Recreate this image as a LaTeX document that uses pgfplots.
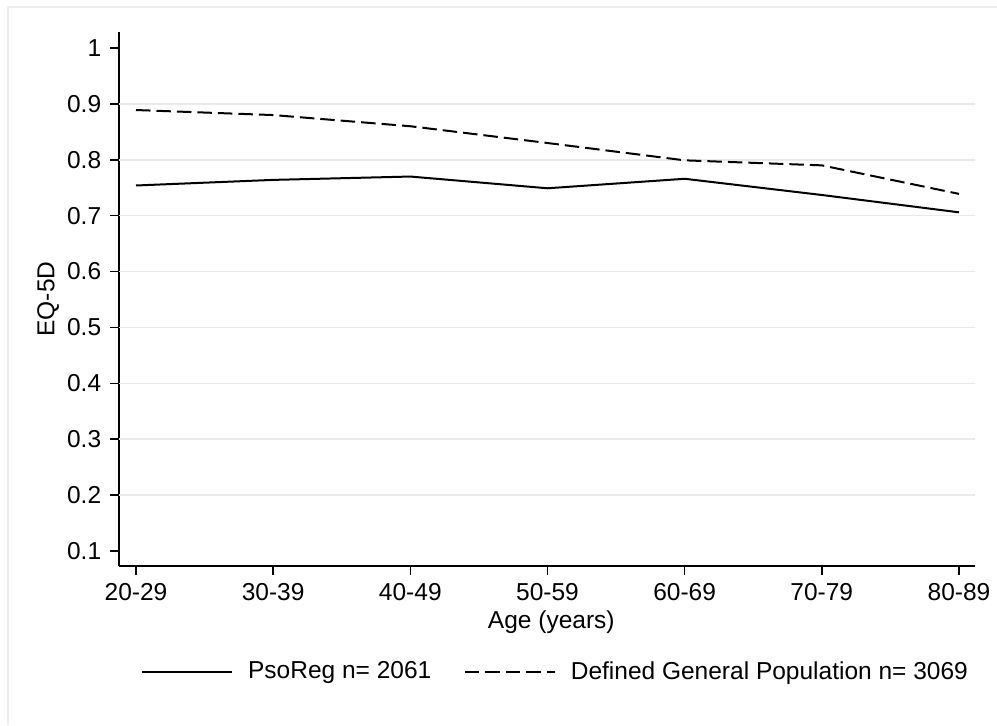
\documentclass[border=0pt]{standalone}
\usepackage{fontspec}
\setmainfont{Liberation Sans}
\usepackage{pgfplots}
\pgfplotsset{compat=1.18}
\definecolor{gridc}{HTML}{EAEAEA}
\definecolor{framec}{HTML}{EEEEEE}
\begin{document}
\begin{tikzpicture}
\path[use as bounding box] (-47.6pt,-63.6pt) rectangle (351.2pt,226.4pt);
\draw[framec, line width=1pt] (-44.4pt,-63.6pt) -- (-44.4pt,223.6pt) -- (351.2pt,223.6pt);
\begin{axis}[
  scale only axis, width=342.4pt, height=213.6pt,
  xmin=-0.124, xmax=6.117, ymin=0.0732, ymax=1.0286,
  axis x line*=bottom, axis y line*=left,
  xtick={0,1,2,3,4,5,6},
  xticklabels={20-29,30-39,40-49,50-59,60-69,70-79,80-89},
  ytick={0.1,0.2,0.3,0.4,0.5,0.6,0.7,0.8,0.9,1},
  yticklabels={0.1,0.2,0.3,0.4,0.5,0.6,0.7,0.8,0.9,1},
  extra y ticks={0.2,0.3,0.4,0.5,0.6,0.7,0.8,0.9},
  extra y tick labels={},
  extra y tick style={major tick length=0pt, ymajorgrids=true,
    major grid style={gridc, line width=0.6pt}},
  tick align=outside, major tick length=3.6pt,
  tick style={black, line width=0.6pt},
  axis line style={black, line width=0.6pt},
  font=\fontsize{9.8}{11}\selectfont,
  /pgf/number format/assume math mode=true,
  xlabel={Age (years)},
  ylabel={EQ-5D},
  xlabel style={at={(axis description cs:0.505,0)}, anchor=center, yshift=-22.4pt},
  ylabel style={at={(axis description cs:-0.0829,0.5)}, anchor=center},
  legend style={draw=none, fill=none, at={(0.5117,-0.1985)}, anchor=center,
    legend columns=2, font=\fontsize{9.8}{11}\selectfont,
    /tikz/every even column/.append style={column sep=11pt}},
  legend cell align=left,
  legend image code/.code={\draw[#1] (0pt,0pt) -- (36pt,0pt);\path (40pt,0pt);},
  clip=false,
]
\addplot[black, line width=0.8pt, line join=round] coordinates {
  (0,0.754) (1,0.764) (2,0.770) (3,0.749) (4,0.766) (5,0.737) (6,0.706)};
\addlegendentry{PsoReg n= 2061}
\addplot[black, line width=0.8pt, line join=round, dash pattern=on 5.8pt off 2.4pt] coordinates {
  (0,0.889) (1,0.880) (2,0.860) (3,0.830) (4,0.799) (5,0.790) (6,0.739)};
\addlegendentry{Defined General Population n= 3069}
\end{axis}
\end{tikzpicture}
\end{document}
